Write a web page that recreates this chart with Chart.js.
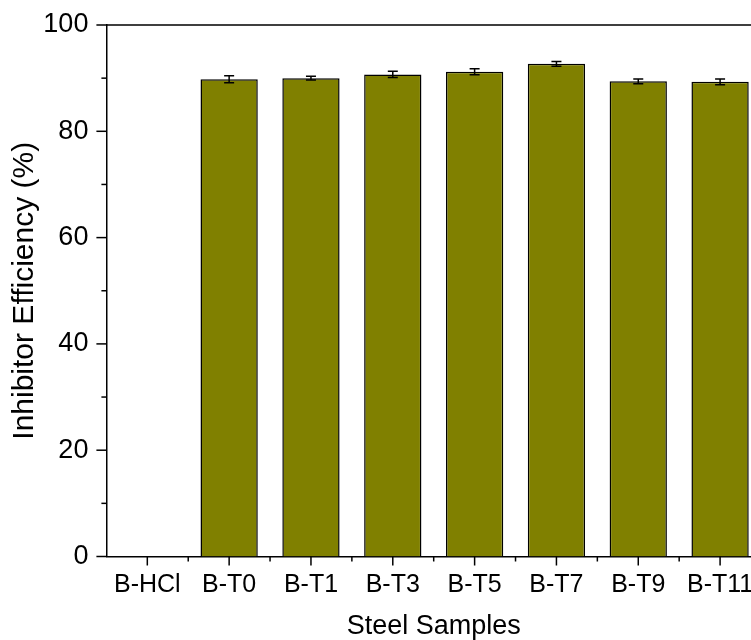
<!DOCTYPE html>
<html>
<head>
<meta charset="utf-8">
<script src="https://cdn.jsdelivr.net/npm/chart.js@4/dist/chart.umd.min.js"></script>
<style>
  html, body { margin: 0; padding: 0; overflow: hidden; background: #fff; }
  #wrap { width: 800px; height: 640px; }
</style>
</head>
<body>
<div id="wrap"><canvas id="c" width="800" height="640"></canvas></div>
<script>
const categories = ['B-HCl', 'B-T0', 'B-T1', 'B-T3', 'B-T5', 'B-T7', 'B-T9', 'B-T11'];
const efficiency = [0, 89.8, 90.0, 90.7, 91.2, 92.7, 89.4, 89.3];
const errors = [0, 0.65, 0.35, 0.6, 0.55, 0.45, 0.45, 0.55];
const yMajorTicks = [0, 20, 40, 60, 80, 100];
const yMinorTicks = [10, 30, 50, 70, 90];

const FONT = '"Liberation Sans", Arial, sans-serif';

const decorPlugin = {
  id: 'decor',
  afterDatasetsDraw(chart) {
    const ctx = chart.ctx;
    const xs = chart.scales.x, ys = chart.scales.y;
    const area = chart.chartArea;
    ctx.save();
    ctx.strokeStyle = '#000';
    ctx.lineWidth = 1.5;
    efficiency.forEach((v, i) => {
      const e = errors[i];
      if (!e) return;
      const x = xs.getPixelForValue(i);
      const yt = ys.getPixelForValue(v + e);
      const yb = ys.getPixelForValue(v - e);
      ctx.beginPath();
      ctx.moveTo(x, yt); ctx.lineTo(x, yb);
      ctx.moveTo(x - 5, yt); ctx.lineTo(x + 5, yt);
      ctx.moveTo(x - 5, yb); ctx.lineTo(x + 5, yb);
      ctx.stroke();
    });
    ctx.beginPath();
    ctx.moveTo(area.left, area.top); ctx.lineTo(area.right, area.top);
    ctx.lineTo(area.right, area.bottom);
    ctx.stroke();
    yMajorTicks.forEach(t => {
      const y = ys.getPixelForValue(t);
      ctx.beginPath(); ctx.moveTo(area.left - 10, y); ctx.lineTo(area.left, y); ctx.stroke();
    });
    yMinorTicks.forEach(t => {
      const y = ys.getPixelForValue(t);
      ctx.beginPath(); ctx.moveTo(area.left - 5, y); ctx.lineTo(area.left, y); ctx.stroke();
    });
    const step = xs.getPixelForValue(1) - xs.getPixelForValue(0);
    categories.forEach((c, i) => {
      const x = xs.getPixelForValue(i);
      ctx.beginPath(); ctx.moveTo(x, area.bottom); ctx.lineTo(x, area.bottom + 9); ctx.stroke();
      if (i < categories.length - 1) {
        const xb = x + step / 2;
        ctx.beginPath(); ctx.moveTo(xb, area.bottom); ctx.lineTo(xb, area.bottom + 5); ctx.stroke();
      }
    });
    ctx.restore();
  }
};

new Chart(document.getElementById('c'), {
  type: 'bar',
  data: {
    labels: categories,
    datasets: [{
      data: efficiency,
      backgroundColor: '#808000',
      borderColor: '#000',
      borderWidth: 1.5,
      categoryPercentage: 1.0,
      barPercentage: 0.7
    }]
  },
  options: {
    responsive: false,
    animation: false,
    layout: { padding: { top: 25, right: 39, left: 0, bottom: 0 } },
    plugins: { legend: { display: false }, tooltip: { enabled: false } },
    scales: {
      x: {
        grid: { display: false, drawTicks: false },
        border: { display: true, color: '#000', width: 1.5 },
        ticks: { color: '#000', font: { family: FONT, size: 25 }, padding: 14, maxRotation: 0, autoSkip: false },
        title: { display: true, text: 'Steel Samples', color: '#000', font: { family: FONT, size: 27, lineHeight: 1.0 }, padding: { top: 0, bottom: 0 } },
        afterFit(scale) { scale.height = 83.5; scale.paddingLeft = 0; scale.paddingRight = 0; }
      },
      y: {
        min: 0, max: 100,
        grid: { display: false, drawTicks: false },
        border: { display: true, color: '#000', width: 1.5 },
        ticks: { stepSize: 20, color: '#000', font: { family: FONT, size: 27 }, padding: 18 },
        title: { display: true, text: 'Inhibitor Efficiency (%)', color: '#000', font: { family: FONT, size: 30, lineHeight: 1.2 }, padding: { top: 7, bottom: 0 } },
        afterFit(scale) { scale.width = 106.4; scale.paddingTop = 0; scale.paddingBottom = 0; }
      }
    }
  },
  plugins: [decorPlugin]
});
</script>
</body>
</html>
